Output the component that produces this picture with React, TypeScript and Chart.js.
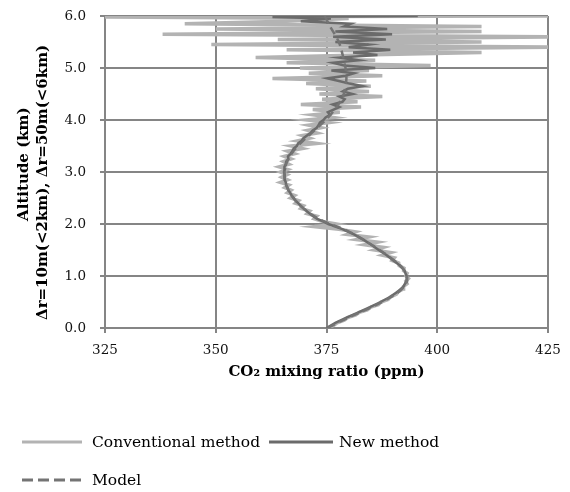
import React, { useEffect, useRef } from 'react';
import { Chart, registerables } from 'chart.js';

Chart.register(...registerables);

// ---- axis ticks ----
const X_TICKS = [325, 350, 375, 400, 425];
const Y_TICKS = [0, 1, 2, 3, 4, 5, 6];

// ---- Conventional method (altitude km, CO2 ppm) ----
const CONV_ALT = [
  0.0, 0.05, 0.1, 0.15, 0.2, 0.25, 0.3, 0.35, 0.4, 0.45,
  0.5, 0.55, 0.6, 0.65, 0.7, 0.75, 0.8, 0.85, 0.9, 0.95,
  1.0, 1.05, 1.1, 1.15, 1.2, 1.25, 1.3, 1.35, 1.4, 1.45,
  1.5, 1.55, 1.6, 1.65, 1.7, 1.75, 1.8, 1.85, 1.9, 1.95,
  2.0, 2.05, 2.1, 2.15, 2.2, 2.25, 2.3, 2.35, 2.4, 2.45,
  2.5, 2.55, 2.6, 2.65, 2.7, 2.75, 2.8, 2.85, 2.9, 2.95,
  3.0, 3.05, 3.1, 3.15, 3.2, 3.25, 3.3, 3.35, 3.4, 3.45,
  3.5, 3.55, 3.6, 3.65, 3.7, 3.75, 3.8, 3.85, 3.9, 3.95,
  4.0, 4.05, 4.1, 4.15, 4.2, 4.25, 4.3, 4.35, 4.4, 4.45,
  4.5, 4.55, 4.6, 4.65, 4.7, 4.75, 4.8, 4.85, 4.9, 4.95,
  5.0, 5.05, 5.1, 5.15, 5.2, 5.25, 5.3, 5.35, 5.4, 5.45,
  5.5, 5.55, 5.6, 5.65, 5.7, 5.75, 5.8, 5.85, 5.9, 5.95,
  5.98, 6.0,
];
const CONV_CO2 = [
  375.2, 376.6, 377.4, 379.0, 379.8, 381.6, 382.4, 384.2, 385.0, 386.7,
  387.3, 388.9, 389.5, 390.8, 391.2, 392.3, 392.4, 393.2, 392.9, 393.5,
  392.9, 393.2, 392.4, 392.5, 391.4, 391.3, 389.8, 390.3, 387.6, 389.5,
  385.8, 387.8, 383.6, 386.5, 381.8, 384.6, 379.7, 381.5, 377.8, 372.3,
  377.2, 374.0, 372.2, 372.8, 370.6, 371.2, 369.2, 369.8, 368.0, 368.7,
  366.9, 367.8, 366.2, 367.0, 365.6, 366.5, 364.6, 366.2, 364.9, 366.1,
  364.6, 366.2, 364.3, 366.5, 365.3, 367.0, 365.5, 367.8, 366.2, 369.5,
  367.0, 372.8, 368.5, 371.2, 369.5, 372.9, 370.8, 373.8, 371.0, 375.5,
  370.5, 376.4, 372.0, 378.0, 371.9, 382.8, 369.2, 382.0, 374.0, 387.6,
  373.4, 384.6, 372.6, 385.0, 370.4, 384.0, 362.8, 387.6, 371.0, 384.6,
  369.0, 398.5, 366.0, 386.0, 359.0, 383.0, 410.0, 366.0, 428.0, 349.0,
  410.0, 364.0, 430.0, 338.0, 410.0, 350.0, 410.0, 343.0, 366.0, 380.0,
  322.0, 430.0,
];

// ---- New method ----
const NEW_ALT = [
  0.0, 0.1, 0.2, 0.3, 0.4, 0.5, 0.6, 0.7, 0.8, 0.9,
  1.0, 1.1, 1.2, 1.3, 1.4, 1.5, 1.6, 1.7, 1.8, 1.9,
  2.0, 2.05, 2.1, 2.15, 2.2, 2.25, 2.3, 2.35, 2.4, 2.45,
  2.5, 2.55, 2.6, 2.65, 2.7, 2.75, 2.8, 2.85, 2.9, 2.95,
  3.0, 3.05, 3.1, 3.15, 3.2, 3.25, 3.3, 3.35, 3.4, 3.45,
  3.5, 3.55, 3.6, 3.65, 3.7, 3.75, 3.8, 3.85, 3.9, 3.95,
  4.0, 4.05, 4.1, 4.15, 4.2, 4.25, 4.3, 4.35, 4.4, 4.45,
  4.5, 4.55, 4.6, 4.65, 4.7, 4.75, 4.8, 4.85, 4.9, 4.95,
  5.0, 5.05, 5.1, 5.15, 5.2, 5.25, 5.3, 5.35, 5.4, 5.45,
  5.5, 5.55, 5.6, 5.65, 5.7, 5.75, 5.8, 5.85, 5.9, 5.95,
  5.98, 6.0,
];
const NEW_CO2 = [
  375.0, 377.0, 379.5, 382.2, 384.8, 387.2, 389.4, 391.1, 392.4, 393.0,
  393.1, 392.6, 391.6, 390.1, 388.6, 386.8, 385.1, 383.3, 381.2, 378.6,
  375.4, 374.2, 372.9, 372.0, 371.2, 370.5, 369.8, 369.2, 368.6, 368.0,
  367.6, 367.1, 366.8, 366.4, 366.2, 365.9, 365.8, 365.6, 365.5, 365.6,
  365.4, 365.6, 365.5, 365.8, 365.9, 366.4, 366.3, 366.9, 367.3, 367.6,
  368.3, 368.6, 369.4, 369.8, 370.6, 371.4, 371.9, 372.8, 373.2, 373.5,
  374.3, 374.8, 375.8, 375.3, 376.6, 377.9, 376.4, 378.6, 379.1, 377.9,
  380.9, 378.7, 379.8, 383.1, 380.2, 377.8, 375.2, 379.3, 381.2, 376.1,
  386.0, 379.0, 376.5, 382.2, 378.0, 386.5, 381.0, 389.4, 380.0, 384.5,
  377.0, 388.4, 376.5, 389.8, 377.0, 388.7, 379.0, 380.5, 369.2, 376.0,
  362.8, 395.6,
];

// ---- Model ----
const MODEL_ALT = [
  0.0, 0.1, 0.2, 0.3, 0.4, 0.5, 0.6, 0.7, 0.8, 0.9,
  1.0, 1.1, 1.2, 1.3, 1.4, 1.5, 1.6, 1.7, 1.8, 1.9,
  2.0, 2.1, 2.2, 2.3, 2.4, 2.5, 2.6, 2.7, 2.8, 2.9,
  3.0, 3.1, 3.2, 3.3, 3.4, 3.5, 3.6, 3.7, 3.8, 3.9,
  4.0, 4.1, 4.2, 4.3, 4.4, 4.5, 4.6, 4.7, 4.8, 4.9,
  5.0, 5.1, 5.2, 5.3, 5.4, 5.5, 5.6, 5.7, 5.8, 5.9,
  6.0,
];
const MODEL_CO2 = [
  375.3, 377.5, 380.0, 382.6, 385.2, 387.6, 389.7, 391.4, 392.6, 393.2,
  393.2, 392.7, 391.7, 390.3, 388.7, 387.0, 385.2, 383.3, 381.3, 378.9,
  375.8, 373.2, 371.3, 369.8, 368.5, 367.5, 366.7, 366.1, 365.7, 365.5,
  365.5, 365.7, 366.1, 366.7, 367.5, 368.5, 369.7, 371.0, 372.3, 373.6,
  374.8, 375.9, 376.9, 377.7, 378.4, 378.9, 379.2, 379.4, 379.5, 379.4,
  379.3, 379.0, 378.8, 378.5, 378.2, 377.8, 377.2, 376.5, 375.8, 375.2,
  374.6,
];

const SERIES_LABELS = ['Conventional method', 'New method', 'Model'];
const COLORS = ['#b3b3b3', '#6b6b6b', '#747474'];

const FONT = "'DejaVu Serif', serif";
const GRID = '#858585';

const toPoints = (alt: number[], co2: number[]) => alt.map((a, i) => ({ x: co2[i], y: a }));

export default function App() {
  const ref = useRef<HTMLCanvasElement>(null);

  useEffect(() => {
    if (!ref.current) return;
    const chart = new Chart(ref.current, {
      type: 'scatter',
      data: {
        datasets: [
          {
            label: SERIES_LABELS[0],
            data: toPoints(CONV_ALT, CONV_CO2),
            showLine: true,
            borderColor: COLORS[0],
            backgroundColor: COLORS[0],
            borderWidth: 3.5,
            pointRadius: 0,
            tension: 0,
            order: 3,
          },
          {
            label: SERIES_LABELS[1],
            data: toPoints(NEW_ALT, NEW_CO2),
            showLine: true,
            borderColor: COLORS[1],
            backgroundColor: COLORS[1],
            borderWidth: 2.5,
            pointRadius: 0,
            tension: 0,
            order: 2,
          },
          {
            label: SERIES_LABELS[2],
            data: toPoints(MODEL_ALT, MODEL_CO2),
            showLine: true,
            borderColor: COLORS[2],
            backgroundColor: COLORS[2],
            borderWidth: 2.5,
            borderDash: [8, 5],
            pointRadius: 0,
            tension: 0,
            order: 1,
          },
        ],
      },
      options: {
        responsive: false,
        animation: false,
        layout: { padding: { left: 0, right: 22, top: 16, bottom: 111 } },
        plugins: {
          legend: { display: false },
          tooltip: { enabled: false },
        },
        scales: {
          x: {
            type: 'linear',
            position: 'bottom',
            min: X_TICKS[0],
            max: X_TICKS[X_TICKS.length - 1],
            ticks: {
              stepSize: X_TICKS[1] - X_TICKS[0],
              font: { family: FONT, size: 13.5 },
              color: '#111',
              padding: 9,
              maxRotation: 0,
            },
            grid: { color: GRID, lineWidth: 2, tickLength: 5 },
            border: { color: GRID, width: 2 },
            title: {
              display: true,
              text: 'CO₂ mixing ratio (ppm)',
              font: { family: FONT, size: 15, weight: 'bold' },
              color: '#000',
              padding: { top: 0, bottom: 0 },
            },
            afterFit: (s: any) => {
              s.height = 53;
            },
          },
          y: {
            type: 'linear',
            min: Y_TICKS[0],
            max: Y_TICKS[Y_TICKS.length - 1],
            ticks: {
              stepSize: Y_TICKS[1] - Y_TICKS[0],
              font: { family: FONT, size: 13.5 },
              color: '#111',
              padding: 14,
              callback: (v: any) => Number(v).toFixed(1),
            },
            grid: { color: GRID, lineWidth: 2, tickLength: 5 },
            border: { color: GRID, width: 2 },
            title: {
              display: true,
              text: ['   Altitude (km)', 'Δr=10m(<2km), Δr=50m(<6km)    '],
              font: { family: FONT, size: 15, weight: 'bold', lineHeight: 1.27 },
              color: '#000',
              padding: { top: 15, bottom: 0 },
            },
            afterFit: (s: any) => {
              s.width = 105;
              s.paddingTop = 0;
              s.paddingBottom = 0;
            },
          },
        },
      },
    } as any);
    return () => chart.destroy();
  }, []);

  const textStyle: React.CSSProperties = {
    fontFamily: FONT,
    fontSize: '15.5px',
    color: '#000',
    lineHeight: '20px',
    whiteSpace: 'nowrap',
  };
  const itemStyle = (left: number, cy: number): React.CSSProperties => ({
    position: 'absolute',
    left,
    top: cy - 10,
    height: 20,
    display: 'flex',
    alignItems: 'center',
  });

  return (
    <div style={{ position: 'absolute', left: 0, top: 0, width: 570, height: 492, background: '#fff' }}>
      <canvas ref={ref} width={570} height={492} style={{ display: 'block' }} />
      <div style={itemStyle(22, 442)}>
        <svg width={60} height={8}>
          <line x1={0} y1={4} x2={60} y2={4} stroke={COLORS[0]} strokeWidth={3} />
        </svg>
        <span style={{ ...textStyle, marginLeft: 10 }}>{SERIES_LABELS[0]}</span>
      </div>
      <div style={itemStyle(269, 442)}>
        <svg width={64} height={8}>
          <line x1={0} y1={4} x2={64} y2={4} stroke={COLORS[1]} strokeWidth={3} />
        </svg>
        <span style={{ ...textStyle, marginLeft: 6 }}>{SERIES_LABELS[1]}</span>
      </div>
      <div style={itemStyle(22, 480)}>
        <svg width={59} height={8}>
          <line x1={0} y1={4} x2={59} y2={4} stroke={COLORS[2]} strokeWidth={3} strokeDasharray="11 5" />
        </svg>
        <span style={{ ...textStyle, marginLeft: 11 }}>{SERIES_LABELS[2]}</span>
      </div>
    </div>
  );
}
